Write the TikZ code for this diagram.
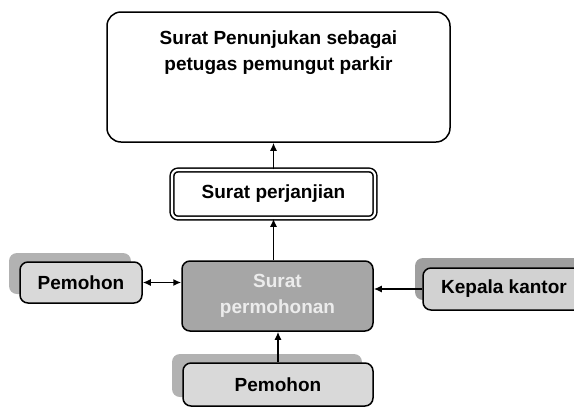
\documentclass[tikz,border=0pt]{standalone}
\usepackage{fontspec}
\setmainfont{Liberation Sans}
\usetikzlibrary{arrows.meta,shadows}

\tikzset{
  box/.style={draw, rounded corners=8pt, line width=1.5pt, align=center,
    font=\bfseries\fontsize{19}{26}\selectfont},
  lightbox/.style={box, fill=gray!30},
  stackbox/.style={lightbox, copy shadow={shadow xshift=-11pt, shadow yshift=9pt,
    fill=gray!60, draw=none}},
  arr/.style={line width=1.5pt, -{Latex[length=8pt,width=7pt]}},
  arrboth/.style={line width=1.5pt, {Latex[length=8pt,width=7pt]}-{Latex[length=8pt,width=7pt]}}
}

\begin{document}
\begin{tikzpicture}[x=1pt,y=-1pt]
\clip (0,0) rectangle (574,408);

\node (sptk) [box, rounded corners=14pt, minimum width=343pt, minimum height=130pt,
  label={[anchor=north, inner sep=0pt, yshift=-19pt, align=center,
    font=\bfseries\fontsize{19}{26}\selectfont]north:Surat Penunjukan sebagai\\petugas pemungut parkir}]
  at (278.5,77) {};

\node (janji) [box, rounded corners=6pt, double, double distance=2.2pt, line width=1.5pt,
  minimum width=203pt, minimum height=48pt] at (273.5,194) {Surat perjanjian};

\node (perm) [box, fill=gray!70, text=gray!15, minimum width=191pt, minimum height=70pt]
  at (277.5,296) {Surat\\permohonan};

% pemohon kiri dan bawah
\node (pmhkiri) [stackbox, minimum width=122pt, minimum height=41pt] at (81,282.5) {Pemohon};
\node (pmhbawah) [stackbox, minimum width=190pt, minimum height=43pt] at (278,384.5) {Pemohon};

\node (kpl) [box, fill=gray!35, minimum width=180pt, minimum height=42pt,
  copy shadow={shadow xshift=-8pt, shadow yshift=10pt, fill=gray!75, draw=none}]
  at (513,289) {\hspace*{-18pt}Kepala kantor};

\draw[arr] (janji.north) -- (janji.north |- sptk.south);
\draw[arr] (perm.north -| janji.north) -- (janji.south);
\draw[arr] (pmhbawah.north) -- (pmhbawah.north |- perm.south);
\draw[arrboth] (pmhkiri.east) -- (pmhkiri.east -| perm.west);
\draw[arr] (kpl.west) -- (kpl.west -| perm.east);
\end{tikzpicture}
\end{document}
